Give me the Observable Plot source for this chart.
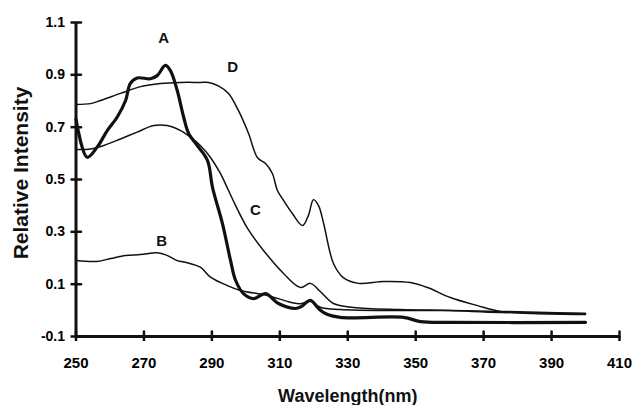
<!DOCTYPE html>
<html>
<head>
<meta charset="utf-8">
<script src="https://cdn.jsdelivr.net/npm/d3@7"></script>
<script src="https://cdn.jsdelivr.net/npm/@observablehq/plot@0.6"></script>
<style>
  html, body { margin: 0; padding: 0; background: #fff; }
  #wrap { position: relative; width: 636px; height: 405px; }
  #wrap svg { position: absolute; left: 0; top: 0; font-family: "Liberation Sans", Arial, sans-serif; font-weight: bold; }
  #ytitle { position: absolute; left: 21px; top: 173px; transform: translate(-50%, -50%) rotate(-90deg);
            white-space: nowrap; font: bold 21px "Liberation Sans", Arial, sans-serif; color: #111; }
</style>
</head>
<body>
<div id="wrap"><div id="ytitle">Relative Intensity</div></div>
<script>
// Tick values
const xTicks = [250, 270, 290, 310, 330, 350, 370, 390, 410];
const yTicks = [-0.1, 0.1, 0.3, 0.5, 0.7, 0.9, 1.1];

// Series A (thick)
const wlA = [250, 253.3, 256.2, 259.2, 262.1, 264.6, 266, 268, 271.9, 273.9, 276.3, 277.8, 279.8, 281.7, 283.2, 285.7, 288.7, 290.2, 293.1, 295.5, 297, 299.3, 302.3, 305.8, 309.6, 314.6, 316.4, 319, 321.4, 323.4, 327.8, 346.4, 351.4, 360.2, 400];
const valA = [0.73, 0.585, 0.623, 0.687, 0.738, 0.802, 0.867, 0.888, 0.885, 0.897, 0.936, 0.916, 0.84, 0.738, 0.675, 0.63, 0.573, 0.469, 0.332, 0.19, 0.114, 0.064, 0.045, 0.064, 0.026, 0.007, 0.015, 0.038, 0.007, -0.012, -0.027, -0.027, -0.043, -0.046, -0.046];

// Series B
const wlB = [250, 256.2, 260.2, 264.6, 269, 273.9, 276.8, 279.8, 282.7, 286.6, 289.6, 294.5, 298.4, 306.3, 313.1, 316, 319, 321.9, 327.8, 345.5, 360.2, 374.9, 400];
const valB = [0.19, 0.187, 0.198, 0.21, 0.213, 0.22, 0.21, 0.19, 0.182, 0.165, 0.127, 0.095, 0.076, 0.057, 0.031, 0.025, 0.035, 0.012, 0.003, -0.001, -0.001, -0.004, -0.012];

// Series C
const wlC = [250, 254.3, 258.2, 263.1, 268, 272.9, 276.8, 280.8, 283.7, 286.6, 289.6, 292.5, 294.9, 297, 300.5, 305.2, 311.1, 316.1, 319, 321.9, 325.8, 331.7, 345.5, 360.2, 374.9, 400];
const valC = [0.615, 0.617, 0.63, 0.655, 0.681, 0.706, 0.706, 0.687, 0.662, 0.63, 0.584, 0.523, 0.458, 0.4, 0.313, 0.229, 0.141, 0.087, 0.103, 0.072, 0.026, 0.011, 0.003, -0.001, -0.008, -0.012];

// Series D
const wlD = [250, 254.3, 257.2, 263.1, 269, 274.9, 280.8, 286.6, 289, 291.9, 294.9, 297.8, 300.8, 303.4, 305.8, 307.8, 309.3, 311.1, 313.7, 316.7, 318.4, 319.9, 321.4, 322.9, 325.8, 328.7, 333.2, 340.5, 348.4, 353.5, 360.2, 368.2, 374.9, 384.6, 400];
const valD = [0.787, 0.79, 0.802, 0.829, 0.855, 0.867, 0.871, 0.871, 0.871, 0.858, 0.829, 0.764, 0.676, 0.584, 0.561, 0.523, 0.458, 0.42, 0.37, 0.324, 0.362, 0.423, 0.4, 0.332, 0.179, 0.125, 0.103, 0.11, 0.106, 0.087, 0.049, 0.018, -0.004, -0.012, -0.016];

// Curve labels
const labelNames = ["A", "B", "C", "D"];
const labelX = [275.8, 275.2, 302.8, 296.1];
const labelY = [1.039, 0.263, 0.381, 0.928];

const rows = [];
[["A", wlA, valA], ["B", wlB, valB], ["C", wlC, valC], ["D", wlD, valD]].forEach(([s, xs, ys]) => {
  xs.forEach((x, i) => rows.push({series: s, wl: x, v: ys[i]}));
});
const labels = labelNames.map((n, i) => ({n, x: labelX[i], y: labelY[i]}));

const xMin = xTicks[0], xMax = xTicks[xTicks.length - 1];
const yMin = yTicks[0], yMax = yTicks[yTicks.length - 1];

const frame = {
  width: 636, height: 405,
  marginLeft: 75.5, marginRight: 17, marginTop: 22, marginBottom: 69,
  x: {domain: [xMin, xMax]},
  y: {domain: [yMin, yMax]}
};

// Layer 1: curves, curve labels, x title
const curves = Plot.plot({
  ...frame,
  axis: null,
  style: {background: "white"},
  marks: [
    Plot.line(rows.filter(d => d.series !== "A"), {x: "wl", y: "v", z: "series", stroke: "#111", strokeWidth: 1.5, curve: "catmull-rom"}),
    Plot.line(rows.filter(d => d.series === "A"), {x: "wl", y: "v", stroke: "#111", strokeWidth: 3.2, curve: "catmull-rom"}),
    Plot.text(labels, {x: "x", y: "y", text: "n", fontSize: 15, fontWeight: "bold", fill: "#111"}),
    Plot.text(["Wavelength(nm)"], {frameAnchor: "bottom", textAnchor: "middle", lineAnchor: "middle", dy: 60, fontSize: 18, fontWeight: "bold", fill: "#111"})
  ]
});

// Layer 2: axes (lines, crossing ticks, tick labels), transparent overlay
const tickShape = {draw(context, l) { context.moveTo(0, 0); context.lineTo(0, -l); }};
const axes = Plot.plot({
  ...frame,
  style: {background: "none"},
  marks: [
    Plot.axisX({ticks: xTicks, tickSize: 5, tickPadding: 16, fontSize: 15, fontWeight: "bold", label: null, strokeWidth: 2.5, stroke: "#111", tickFormat: d => String(d)}),
    Plot.axisY({ticks: yTicks, tickSize: 5, tickPadding: 6, fontSize: 14, fontWeight: "bold", label: null, strokeWidth: 2.5, stroke: "#111", tickFormat: d => d.toFixed(1)}),
    Plot.ruleY([yMin], {stroke: "#111", strokeWidth: 3}),
    Plot.ruleX([xMin], {stroke: "#111", strokeWidth: 3}),
    Plot.vector(xTicks, {x: d => d, y: () => yMin, length: 5, rotate: 0, anchor: "start", shape: tickShape, stroke: "#111", strokeWidth: 2.5}),
    Plot.vector(yTicks, {x: () => xMin, y: d => d, length: 5, rotate: 90, anchor: "start", shape: tickShape, stroke: "#111", strokeWidth: 2.5})
  ]
});

const wrap = document.getElementById("wrap");
wrap.insertBefore(curves, wrap.firstChild);
wrap.insertBefore(axes, document.getElementById("ytitle"));
</script>
</body>
</html>
